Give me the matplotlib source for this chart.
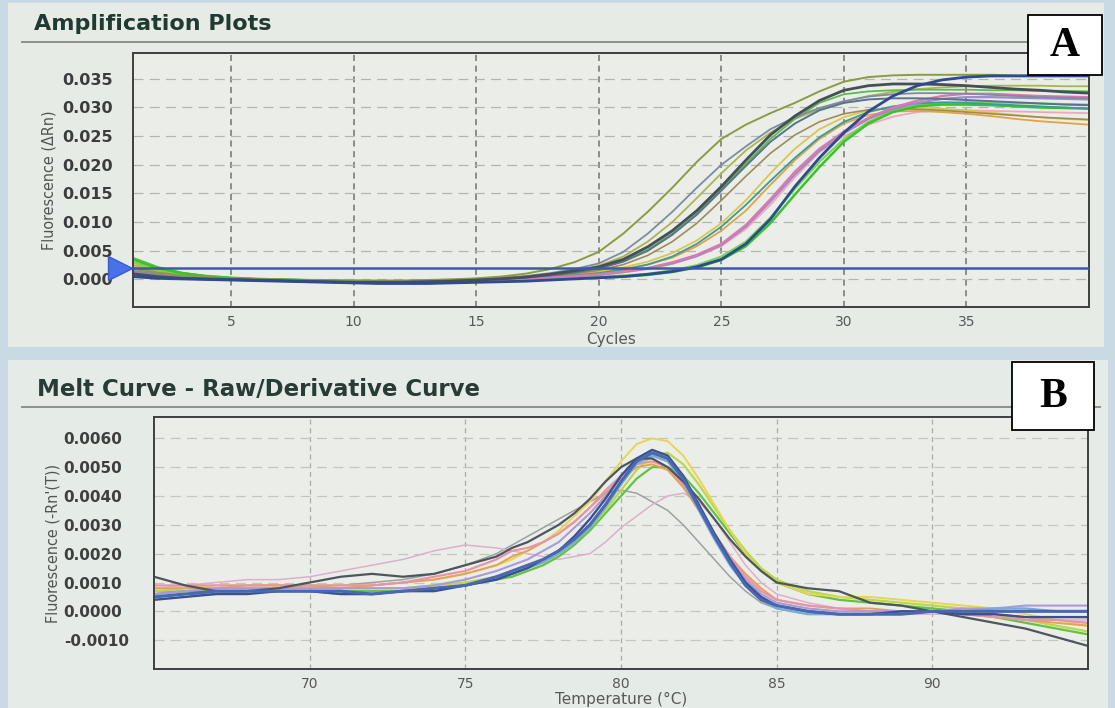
import matplotlib
matplotlib.use("Agg")
import os
import matplotlib.pyplot as plt
from matplotlib import font_manager
from matplotlib.font_manager import FontProperties
from matplotlib.patches import Rectangle
from matplotlib.lines import Line2D
import matplotlib.transforms as mtransforms

# ---------------- data: amplification plot (panel A) ----------------
cycles = list(range(1, 41))
threshold = 0.002

amp_olive_top = [0.0020,0.0012,0.0007,0.0004,0.0002,0.0001,0.0000,-0.0001,-0.0002,-0.0002,
                 -0.0002,-0.0002,-0.0001,0.0000,0.0002,0.0005,0.0010,0.0018,0.0030,0.0048,
                 0.0080,0.0118,0.0160,0.0205,0.0245,0.0270,0.0290,0.0308,0.0328,0.0345,
                 0.0353,0.0356,0.0357,0.0357,0.0357,0.0357,0.0356,0.0356,0.0355,0.0355]
amp_grey_blue = [0.0015,0.0009,0.0005,0.0003,0.0001,0.0000,-0.0001,-0.0002,-0.0003,-0.0003,
                 -0.0003,-0.0003,-0.0002,-0.0001,0.0001,0.0003,0.0006,0.0011,0.0018,0.0028,
                 0.0048,0.0080,0.0118,0.0160,0.0200,0.0232,0.0262,0.0283,0.0299,0.0311,
                 0.0319,0.0323,0.0325,0.0325,0.0324,0.0322,0.0320,0.0318,0.0317,0.0316]
amp_light_olive = [0.0025,0.0015,0.0008,0.0004,0.0002,0.0001,0.0000,-0.0001,-0.0002,-0.0002,
                   -0.0002,-0.0002,-0.0001,0.0000,0.0001,0.0003,0.0005,0.0009,0.0015,0.0024,
                   0.0040,0.0066,0.0100,0.0142,0.0185,0.0225,0.0256,0.0280,0.0297,0.0310,
                   0.0320,0.0327,0.0332,0.0335,0.0337,0.0338,0.0338,0.0338,0.0337,0.0337]
amp_dark_slate = [0.0010,0.0005,0.0002,0.0001,0.0000,-0.0001,-0.0002,-0.0003,-0.0004,-0.0005,
                  -0.0005,-0.0005,-0.0004,-0.0003,-0.0001,0.0001,0.0004,0.0009,0.0015,0.0022,
                  0.0035,0.0057,0.0085,0.0120,0.0162,0.0208,0.0252,0.0285,0.0312,0.0330,
                  0.0338,0.0341,0.0341,0.0340,0.0338,0.0335,0.0332,0.0330,0.0327,0.0325]
amp_steel = [0.0008,0.0004,0.0002,0.0001,0.0000,-0.0001,-0.0002,-0.0003,-0.0004,-0.0004,
             -0.0004,-0.0004,-0.0003,-0.0002,-0.0001,0.0001,0.0003,0.0007,0.0012,0.0019,
             0.0031,0.0050,0.0078,0.0113,0.0155,0.0198,0.0240,0.0272,0.0295,0.0308,
             0.0314,0.0316,0.0316,0.0315,0.0313,0.0311,0.0309,0.0307,0.0305,0.0304]
amp_green_early = [0.0038,0.0022,0.0012,0.0006,0.0003,0.0001,0.0000,-0.0001,-0.0002,-0.0002,
                   -0.0003,-0.0003,-0.0002,-0.0001,0.0000,0.0002,0.0004,0.0008,0.0013,0.0020,
                   0.0032,0.0052,0.0080,0.0115,0.0158,0.0202,0.0245,0.0280,0.0308,0.0323,
                   0.0328,0.0330,0.0331,0.0331,0.0331,0.0330,0.0330,0.0329,0.0329,0.0328]
amp_orange = [0.0030,0.0018,0.0010,0.0005,0.0002,0.0000,-0.0001,-0.0002,-0.0003,-0.0003,
              -0.0004,-0.0004,-0.0004,-0.0003,-0.0002,0.0000,0.0002,0.0005,0.0008,0.0012,
              0.0018,0.0026,0.0038,0.0058,0.0085,0.0120,0.0165,0.0208,0.0245,0.0272,
              0.0287,0.0293,0.0294,0.0292,0.0289,0.0285,0.0280,0.0276,0.0273,0.0270]
amp_yellow = [0.0028,0.0017,0.0009,0.0005,0.0002,0.0000,-0.0001,-0.0002,-0.0002,-0.0003,
              -0.0003,-0.0003,-0.0003,-0.0002,-0.0001,0.0001,0.0003,0.0006,0.0010,0.0014,
              0.0021,0.0031,0.0046,0.0068,0.0098,0.0138,0.0185,0.0228,0.0262,0.0283,
              0.0295,0.0300,0.0300,0.0298,0.0295,0.0291,0.0287,0.0283,0.0280,0.0278]
amp_brown = [0.0018,0.0011,0.0006,0.0003,0.0001,0.0000,-0.0001,-0.0002,-0.0003,-0.0003,
             -0.0003,-0.0003,-0.0003,-0.0002,-0.0001,0.0001,0.0003,0.0006,0.0010,0.0016,
             0.0026,0.0042,0.0066,0.0098,0.0138,0.0180,0.0220,0.0252,0.0275,0.0289,
             0.0296,0.0298,0.0297,0.0295,0.0292,0.0289,0.0286,0.0283,0.0281,0.0279]
amp_magenta = [0.0012,0.0007,0.0004,0.0002,0.0001,0.0000,-0.0001,-0.0002,-0.0003,-0.0004,
               -0.0004,-0.0004,-0.0004,-0.0003,-0.0002,-0.0001,0.0001,0.0003,0.0006,0.0009,
               0.0014,0.0020,0.0030,0.0043,0.0062,0.0095,0.0140,0.0188,0.0228,0.0258,
               0.0282,0.0300,0.0312,0.0320,0.0324,0.0324,0.0322,0.0320,0.0319,0.0318]
amp_light_pink = [0.0022,0.0013,0.0007,0.0004,0.0002,0.0000,-0.0001,-0.0002,-0.0003,-0.0004,
                  -0.0004,-0.0005,-0.0005,-0.0004,-0.0003,-0.0001,0.0001,0.0003,0.0005,0.0008,
                  0.0012,0.0018,0.0027,0.0040,0.0058,0.0088,0.0130,0.0178,0.0222,0.0250,
                  0.0270,0.0284,0.0292,0.0295,0.0295,0.0294,0.0293,0.0292,0.0291,0.0290]
amp_purple = [0.0010,0.0006,0.0003,0.0002,0.0001,0.0000,-0.0001,-0.0002,-0.0003,-0.0004,
              -0.0004,-0.0004,-0.0004,-0.0003,-0.0002,-0.0001,0.0001,0.0003,0.0005,0.0008,
              0.0013,0.0019,0.0028,0.0041,0.0060,0.0092,0.0136,0.0183,0.0224,0.0255,
              0.0280,0.0297,0.0308,0.0315,0.0318,0.0318,0.0317,0.0316,0.0315,0.0314]
amp_navy = [0.0005,0.0002,0.0001,0.0000,-0.0001,-0.0002,-0.0003,-0.0004,-0.0005,-0.0006,
            -0.0007,-0.0007,-0.0007,-0.0006,-0.0005,-0.0004,-0.0003,-0.0001,0.0001,0.0003,
            0.0005,0.0009,0.0014,0.0022,0.0035,0.0062,0.0105,0.0162,0.0212,0.0256,
            0.0293,0.0320,0.0338,0.0348,0.0353,0.0355,0.0355,0.0355,0.0355,0.0355]
amp_bright_green = [0.0035,0.0020,0.0011,0.0006,0.0003,0.0001,0.0000,-0.0001,-0.0002,-0.0003,
                    -0.0003,-0.0004,-0.0004,-0.0003,-0.0002,-0.0001,0.0000,0.0001,0.0002,0.0003,
                    0.0005,0.0008,0.0013,0.0021,0.0034,0.0058,0.0098,0.0148,0.0196,0.0240,
                    0.0272,0.0292,0.0302,0.0305,0.0305,0.0304,0.0302,0.0300,0.0299,0.0298]
amp_green2 = [0.0030,0.0018,0.0010,0.0005,0.0002,0.0001,0.0000,-0.0001,-0.0002,-0.0002,
              -0.0003,-0.0003,-0.0003,-0.0002,-0.0001,0.0000,0.0001,0.0002,0.0003,0.0005,
              0.0007,0.0010,0.0016,0.0025,0.0040,0.0066,0.0108,0.0158,0.0205,0.0245,
              0.0275,0.0294,0.0304,0.0308,0.0309,0.0309,0.0308,0.0307,0.0306,0.0305]
amp_teal = [0.0012,0.0007,0.0004,0.0002,0.0001,0.0000,-0.0001,-0.0002,-0.0002,-0.0003,
            -0.0003,-0.0003,-0.0003,-0.0002,-0.0001,0.0000,0.0002,0.0004,0.0007,0.0011,
            0.0017,0.0026,0.0040,0.0062,0.0092,0.0130,0.0172,0.0212,0.0248,0.0275,
            0.0292,0.0302,0.0307,0.0309,0.0308,0.0306,0.0304,0.0302,0.0300,0.0298]

amp_series = [
    (amp_light_pink, "#f2a6bc", 1.3),
    (amp_yellow, "#dcc650", 1.3),
    (amp_orange, "#e3a244", 1.3),
    (amp_brown, "#9c8c5a", 1.2),
    (amp_light_olive, "#aab452", 1.3),
    (amp_green_early, "#5cbc4a", 1.3),
    (amp_green2, "#78d458", 1.5),
    (amp_bright_green, "#3cc22c", 1.8),
    (amp_teal, "#3a9c98", 1.3),
    (amp_purple, "#a088cc", 1.6),
    (amp_magenta, "#d97aaa", 1.6),
    (amp_grey_blue, "#7c8ca2", 1.3),
    (amp_olive_top, "#8c9a42", 1.4),
    (amp_steel, "#58728f", 1.4),
    (amp_dark_slate, "#464e56", 2.0),
    (amp_navy, "#2e4a90", 2.0),
]

amp_xticks = [5, 10, 15, 20, 25, 30, 35]
amp_yticks = [0.000, 0.005, 0.010, 0.015, 0.020, 0.025, 0.030, 0.035]

# ---------------- data: melt curve (panel B) ----------------
temps = [65, 66, 67, 68, 69, 70, 71, 72, 73, 74, 75,
         76, 76.5, 77, 77.5, 78, 78.5, 79, 79.5, 80, 80.5, 81, 81.5, 82, 82.5,
         83, 83.5, 84, 84.5, 85,
         86, 87, 88, 89, 90, 91, 92, 93, 94, 95]

melt_blue = [0.0005,0.0006,0.0007,0.0007,0.0007,0.0007,0.0007,0.0006,0.0007,0.0008,0.0009,
             0.0012,0.0014,0.0016,0.0018,0.0021,0.0025,0.0030,0.0037,0.0045,0.0052,0.0055,0.0053,0.0046,0.0036,0.0026,0.0017,0.0009,0.0004,0.0002,
             0.0000,-0.0001,-0.0001,-0.0001,0.0000,0.0000,0.0000,0.0000,0.0000,0.0000]
melt_dark = [0.0012,0.0009,0.0007,0.0007,0.0008,0.0010,0.0012,0.0013,0.0012,0.0013,0.0016,
             0.0019,0.0022,0.0024,0.0027,0.0030,0.0034,0.0039,0.0045,0.0050,0.0053,0.0053,0.0050,0.0045,0.0039,0.0032,0.0025,0.0019,0.0014,0.0010,
             0.0008,0.0007,0.0003,0.0002,0.0000,-0.0002,-0.0004,-0.0006,-0.0009,-0.0012]
melt_yellow = [0.0008,0.0008,0.0009,0.0009,0.0009,0.0009,0.0009,0.0009,0.0010,0.0011,0.0013,
               0.0016,0.0018,0.0021,0.0024,0.0028,0.0033,0.0038,0.0045,0.0052,0.0058,0.0060,0.0059,0.0054,0.0046,0.0037,0.0028,0.0020,0.0014,0.0010,
               0.0006,0.0005,0.0005,0.0004,0.0003,0.0002,0.0001,-0.0001,-0.0003,-0.0005]
melt_yellow_green = [0.0007,0.0008,0.0008,0.0008,0.0008,0.0008,0.0008,0.0008,0.0008,0.0009,0.0010,
                     0.0012,0.0013,0.0015,0.0017,0.0020,0.0024,0.0029,0.0035,0.0042,0.0049,0.0054,0.0055,0.0051,0.0044,0.0036,0.0028,0.0021,0.0015,0.0011,
                     0.0007,0.0005,0.0004,0.0003,0.0002,0.0001,-0.0001,-0.0003,-0.0005,-0.0007]
melt_orange = [0.0008,0.0008,0.0008,0.0009,0.0009,0.0009,0.0008,0.0009,0.0010,0.0011,0.0013,
               0.0016,0.0019,0.0021,0.0024,0.0027,0.0031,0.0036,0.0041,0.0046,0.0050,0.0051,0.0049,0.0043,0.0035,0.0027,0.0019,0.0013,0.0008,0.0004,
               0.0002,0.0001,0.0001,0.0000,0.0000,-0.0001,-0.0002,-0.0003,-0.0004,-0.0005]
melt_pink = [0.0009,0.0009,0.0009,0.0009,0.0009,0.0009,0.0009,0.0009,0.0010,0.0012,0.0014,
             0.0018,0.0021,0.0022,0.0024,0.0027,0.0031,0.0036,0.0042,0.0047,0.0051,0.0052,0.0050,0.0044,0.0036,0.0027,0.0019,0.0012,0.0007,0.0004,
             0.0002,0.0001,0.0000,0.0000,0.0000,-0.0001,-0.0002,-0.0003,-0.0003,-0.0004]
melt_lavender = [0.0006,0.0007,0.0008,0.0008,0.0008,0.0008,0.0008,0.0008,0.0008,0.0009,0.0011,
                 0.0014,0.0016,0.0018,0.0021,0.0024,0.0029,0.0034,0.0040,0.0047,0.0052,0.0054,0.0052,0.0046,0.0037,0.0027,0.0018,0.0011,0.0006,0.0003,
                 0.0001,0.0000,0.0000,0.0000,0.0000,0.0001,0.0001,0.0002,0.0002,0.0002]
melt_faint_pink = [0.0008,0.0009,0.0010,0.0011,0.0011,0.0012,0.0014,0.0016,0.0018,0.0021,0.0023,
                   0.0022,0.0021,0.0020,0.0019,0.0018,0.0019,0.0020,0.0024,0.0029,0.0033,0.0037,0.0040,0.0041,0.0038,0.0032,0.0024,0.0016,0.0010,0.0006,
                   0.0003,0.0001,0.0000,-0.0001,-0.0001,-0.0001,-0.0002,-0.0002,-0.0003,-0.0003]
melt_faint_grey = [0.0007,0.0007,0.0008,0.0008,0.0008,0.0009,0.0009,0.0010,0.0011,0.0013,0.0016,
                   0.0020,0.0023,0.0026,0.0029,0.0032,0.0035,0.0038,0.0041,0.0042,0.0041,0.0038,0.0035,0.0030,0.0024,0.0018,0.0012,0.0007,0.0003,0.0001,
                   -0.0001,-0.0001,-0.0001,0.0000,0.0000,0.0000,-0.0001,-0.0002,-0.0003,-0.0004]
melt_green = [0.0006,0.0007,0.0007,0.0007,0.0007,0.0007,0.0007,0.0007,0.0007,0.0008,0.0009,
              0.0011,0.0012,0.0014,0.0016,0.0019,0.0023,0.0028,0.0034,0.0040,0.0046,0.0050,0.0050,0.0047,0.0041,0.0034,0.0027,0.0020,0.0014,0.0010,
              0.0006,0.0004,0.0003,0.0002,0.0001,0.0000,-0.0002,-0.0004,-0.0006,-0.0008]
melt_navy = [0.0004,0.0005,0.0006,0.0006,0.0007,0.0007,0.0006,0.0006,0.0007,0.0007,0.0009,
             0.0011,0.0013,0.0015,0.0018,0.0021,0.0026,0.0032,0.0039,0.0047,0.0053,0.0056,0.0054,0.0047,0.0037,0.0027,0.0018,0.0010,0.0005,0.0002,
             0.0000,-0.0001,-0.0001,0.0000,0.0000,-0.0001,-0.0001,-0.0002,-0.0002,-0.0002]
melt_light_blue = [0.0005,0.0006,0.0006,0.0007,0.0007,0.0007,0.0006,0.0006,0.0007,0.0008,0.0009,
                   0.0012,0.0013,0.0015,0.0017,0.0020,0.0024,0.0029,0.0036,0.0044,0.0051,0.0054,0.0052,0.0045,0.0035,0.0025,0.0016,0.0009,0.0004,0.0001,
                   -0.0001,-0.0001,-0.0001,0.0000,0.0000,0.0000,0.0001,0.0001,0.0000,0.0000]

melt_series = [
    (melt_faint_grey, "#9aa2a2", 1.1),
    (melt_faint_pink, "#dcb0cc", 1.1),
    (melt_green, "#62c244", 1.6),
    (melt_yellow_green, "#bcd84a", 1.6),
    (melt_yellow, "#e6d654", 1.4),
    (melt_orange, "#e2a452", 1.4),
    (melt_pink, "#ea92aa", 1.5),
    (melt_lavender, "#aa9ad8", 1.5),
    (melt_light_blue, "#7aaad8", 1.6),
    (melt_dark, "#4e555e", 1.6),
    (melt_navy, "#3a5090", 1.7),
    (melt_blue, "#4a68b0", 2.2),
]

melt_xticks = [70, 75, 80, 85, 90]
melt_yticks = [-0.0010, 0.0000, 0.0010, 0.0020, 0.0030, 0.0040, 0.0050, 0.0060]

# ---------------- fonts ----------------
serif_names = {f.name for f in font_manager.fontManager.ttflist}
serif = "Liberation Serif" if "Liberation Serif" in serif_names else "DejaVu Serif"

cond_path = None
for f in font_manager.fontManager.ttflist:
    base = os.path.basename(f.fname)
    if any(k in base for k in ("Bold", "Oblique", "Italic")):
        continue
    if base.startswith("LiberationSansNarrow-Regular"):
        cond_path = f.fname
        break
    if base.startswith("DejaVuSansCondensed") and cond_path is None:
        cond_path = f.fname
if cond_path:
    ylab_props = FontProperties(fname=cond_path, size=11.5)
else:
    ylab_props = FontProperties(family="DejaVu Sans", size=10)

plt.rcParams["font.family"] = ["DejaVu Sans"]

W, H = 1115, 708
fig = plt.figure(figsize=(W / 100, H / 100), dpi=100, facecolor="#c9dae4")


def fx(px):
    return px / W


def fy(py):
    return 1 - py / H


# window backgrounds (behind everything)
fig.patches.append(Rectangle((fx(8), fy(347)), fx(1096), 344 / H, transform=fig.transFigure,
                             facecolor="#e7ebe6", edgecolor="none", zorder=-10))
fig.patches.append(Rectangle((fx(8), fy(708)), fx(1100), 348 / H, transform=fig.transFigure,
                             facecolor="#e5ebe6", edgecolor="none", zorder=-10))

# separator lines
fig.lines.append(Line2D([fx(22), fx(1030)], [fy(42), fy(42)], transform=fig.transFigure,
                        color="#8c918c", lw=1.4, zorder=-5))
fig.lines.append(Line2D([fx(22), fx(1100)], [fy(407), fy(407)], transform=fig.transFigure,
                        color="#8c918c", lw=1.4, zorder=-5))

# titles
fig.text(fx(34), fy(24), "Amplification Plots", fontsize=16, fontweight="bold",
         color="#1f3a33", va="center", ha="left")
fig.text(fx(37), fy(389), "Melt Curve - Raw/Derivative Curve", fontsize=16.5, fontweight="bold",
         color="#2a3a36", va="center", ha="left")

axcolor = "#ebeee8"

# ---------------- panel A ----------------
axA = fig.add_axes([fx(133), fy(307), (1089 - 133) / W, (307 - 53) / H], facecolor=axcolor)
axA.set_zorder(1)
for vals, col, lw in amp_series:
    axA.plot(cycles, vals, color=col, lw=lw, solid_joinstyle="round")
axA.axhline(threshold, color="#3c5aa6", lw=1.8, zorder=5)
blend = mtransforms.blended_transform_factory(axA.transAxes, axA.transData)
axA.plot([-0.0135], [threshold], marker=">", ms=17, color="#4a72e8", mec="#3a5ad0",
         transform=blend, clip_on=False, zorder=6)
axA.set_xlim(1, 40)
axA.set_ylim(-0.0048, 0.0395)
axA.set_xticks(amp_xticks)
axA.set_yticks(amp_yticks)
axA.set_yticklabels([f"{v:.3f}" for v in amp_yticks])
axA.tick_params(axis="y", length=0, pad=51, labelsize=11.5, labelcolor="#3a3d3c")
axA.tick_params(axis="x", length=0, pad=6, labelsize=10, labelcolor="#555a58")
for lab in axA.get_yticklabels():
    lab.set_horizontalalignment("left")
    lab.set_fontweight("bold")
axA.grid(axis="x", color="#707370", ls=(0, (4, 3)), lw=1.1)
axA.grid(axis="y", color="#b2b6b1", ls=(0, (8, 5)), lw=0.9)
axA.set_axisbelow(True)
for s in axA.spines.values():
    s.set_color("#3d403e")
    s.set_linewidth(1.4)
axA.set_xlabel("Cycles", fontsize=11, color="#555a58", labelpad=0)
axA.xaxis.set_label_coords(0.5, -0.1)
axA.set_ylabel("Fluorescence (\u0394Rn)", fontproperties=ylab_props, color="#505452")
axA.yaxis.set_label_coords(-0.08, 0.5)

# ---------------- panel B ----------------
axB = fig.add_axes([fx(154), fy(669), (1088 - 154) / W, (669 - 417) / H], facecolor=axcolor)
axB.set_zorder(1)
for vals, col, lw in melt_series:
    axB.plot(temps, vals, color=col, lw=lw, solid_joinstyle="round")
axB.set_xlim(65, 95)
axB.set_ylim(-0.0020, 0.00674)
axB.set_xticks(melt_xticks)
axB.set_yticks(melt_yticks)
axB.set_yticklabels([f"{v:.4f}" for v in melt_yticks])
axB.tick_params(axis="y", length=0, pad=65, labelsize=11, labelcolor="#3d403f")
axB.tick_params(axis="x", length=0, pad=6, labelsize=10, labelcolor="#555a58")
for lab in axB.get_yticklabels():
    lab.set_horizontalalignment("left")
    lab.set_fontweight("bold")
axB.grid(axis="x", color="#a9ada8", ls=(0, (4, 3)), lw=0.9)
axB.grid(axis="y", color="#c2c6c1", ls=(0, (8, 5)), lw=0.9)
axB.set_axisbelow(True)
for s in axB.spines.values():
    s.set_color("#3d403e")
    s.set_linewidth(1.4)
axB.set_xlabel("Temperature (\u00b0C)", fontsize=11, color="#555a58", labelpad=0)
axB.xaxis.set_label_coords(0.5, -0.092)
axB.set_ylabel("Fluorescence (-Rn'(T))", fontproperties=ylab_props, color="#505452")
axB.yaxis.set_label_coords(-0.1, 0.5)

# ---------------- panel letters ----------------
for (x0, y0, x1, y1, letter) in [(1028, 15, 1102, 75, "A"), (1012, 362, 1094, 430, "B")]:
    fig.patches.append(Rectangle((fx(x0), fy(y1)), (x1 - x0) / W, (y1 - y0) / H,
                                 transform=fig.transFigure, facecolor="white",
                                 edgecolor="black", lw=1.3, zorder=10))
    fig.text(fx((x0 + x1) / 2), fy((y0 + y1) / 2 + 1), letter, family=serif, fontweight="bold",
             fontsize=30, ha="center", va="center", zorder=11)

fig.savefig("out.png", dpi=100, facecolor=fig.get_facecolor())
